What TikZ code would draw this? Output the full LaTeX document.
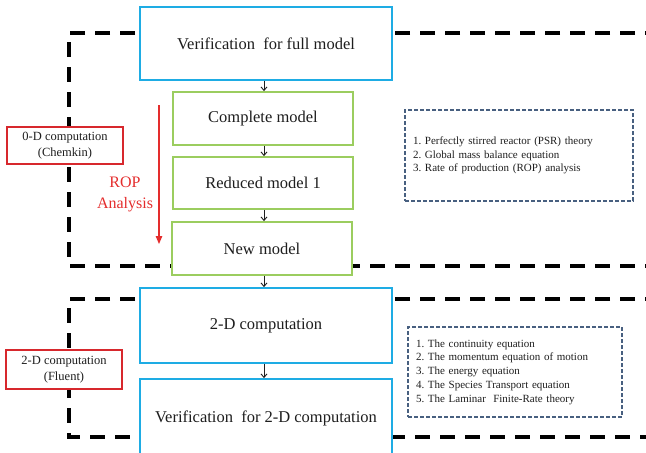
\documentclass[tikz,border=0pt]{standalone}
\usepackage{fontspec}
\setmainfont{Liberation Serif}
\usetikzlibrary{arrows.meta}
\frenchspacing
\definecolor{bluebox}{RGB}{30,172,228}
\definecolor{greenbox}{RGB}{155,205,95}
\definecolor{redbox}{RGB}{215,40,45}
\definecolor{ropred}{RGB}{228,45,45}
\definecolor{listdash}{RGB}{72,96,128}
\definecolor{txt}{RGB}{30,30,30}
\tikzset{
  bigdash/.style={draw=black, line width=3.6pt, dash pattern=on 15pt off 10pt},
  bluenode/.style={draw=bluebox, fill=white, line width=1.8pt, minimum width=252pt, font=\rmfamily\fontsize{16.5}{19}\selectfont, text=txt, inner sep=0pt},
  greennode/.style={draw=greenbox, fill=white, line width=1.8pt, minimum width=180pt, minimum height=53pt, font=\rmfamily\fontsize{16.5}{19}\selectfont, text=txt, inner sep=0pt},
  rednode/.style={draw=redbox, fill=white, line width=1.6pt, minimum width=116pt, font=\rmfamily\fontsize{12.5}{16}\selectfont, text=txt, align=center, inner sep=0pt},
  listnode/.style={draw=listdash, line width=1.4pt, dash pattern=on 4pt off 2pt, align=left, inner xsep=8pt, inner ysep=0pt, font=\rmfamily\fontsize{11}{13.8}\selectfont, text=txt},
  flow/.style={-{Straight Barb[length=3.5pt,width=6pt]}, line width=0.9pt, draw=txt},
}
\begin{document}
\begin{tikzpicture}[x=1pt,y=-1pt]
\useasboundingbox (0,0) rectangle (646,453);
% outer dashed frames (open to the right)
\coordinate (f1a) at (660,33);
\coordinate (f1b) at (69,33);
\coordinate (f1c) at (69,266);
\coordinate (f1d) at (660,266);
\draw[bigdash] (f1a) -- (f1b) -- (f1c) -- (f1d);
\coordinate (f2a) at (660,299);
\coordinate (f2b) at (69,299);
\coordinate (f2c) at (69,437);
\coordinate (f2d) at (660,437);
\draw[bigdash] (f2a) -- (f2b) -- (f2c) -- (f2d);

% main flow
\node[bluenode, minimum height=73pt] (full) at (266,43.5) {Verification\ \ for full model};
\node[greennode] (complete) at (263,118.5) {Complete model};
\node[greennode, minimum height=52pt] (reduced) at (263,183) {Reduced model 1};
\node[greennode] (new) at (262,248.5) {New model};
\node[bluenode, minimum height=75pt] (twod) at (266,325.5) {2-D computation};
\node[bluenode, minimum height=78pt] (ver2d) at (266,418) {Verification\ \ for 2-D computation};

\draw[flow] (full.south -| 264,0) -- (complete.north -| 264,0);
\draw[flow] (complete.south -| 264,0) -- (reduced.north -| 264,0);
\draw[flow] (reduced.south -| 264,0) -- (new.north -| 264,0);
\draw[flow] (new.south -| 264,0) -- (twod.north -| 264,0);
\draw[flow] (twod.south -| 264,0) -- (ver2d.north -| 264,0);

% labels on the left
\node[rednode, minimum height=37pt] (chem) at (65,145.5) {0-D computation\\(Chemkin)};
\node[rednode, minimum height=39pt] (fluent) at (64,369.5) {2-D computation\\(Fluent)};

% ROP arrow
\coordinate (ropa) at (159,105);
\coordinate (ropb) at (159,244);
\draw[ropred, line width=1.3pt, -{Triangle[length=8pt,width=6.5pt]}] (ropa) -- (ropb);
\node[text=ropred, align=center, font=\rmfamily\fontsize{16}{21}\selectfont] (rop) at (125,194) {ROP\\Analysis};

% lists
\node[listnode, minimum width=228pt, minimum height=91pt, text width=212pt] (list1) at (519,155.5)
 {1. Perfectly stirred reactor (PSR) theory\\2. Global mass balance equation\\3. Rate of production (ROP) analysis};
\node[listnode, minimum width=214pt, minimum height=90pt, text width=198pt] (list2) at (515,372)
 {1. The continuity equation\\2. The momentum equation of motion\\3. The energy equation\\4. The Species Transport equation\\5. The Laminar\ \ Finite-Rate theory};
\end{tikzpicture}
\end{document}
